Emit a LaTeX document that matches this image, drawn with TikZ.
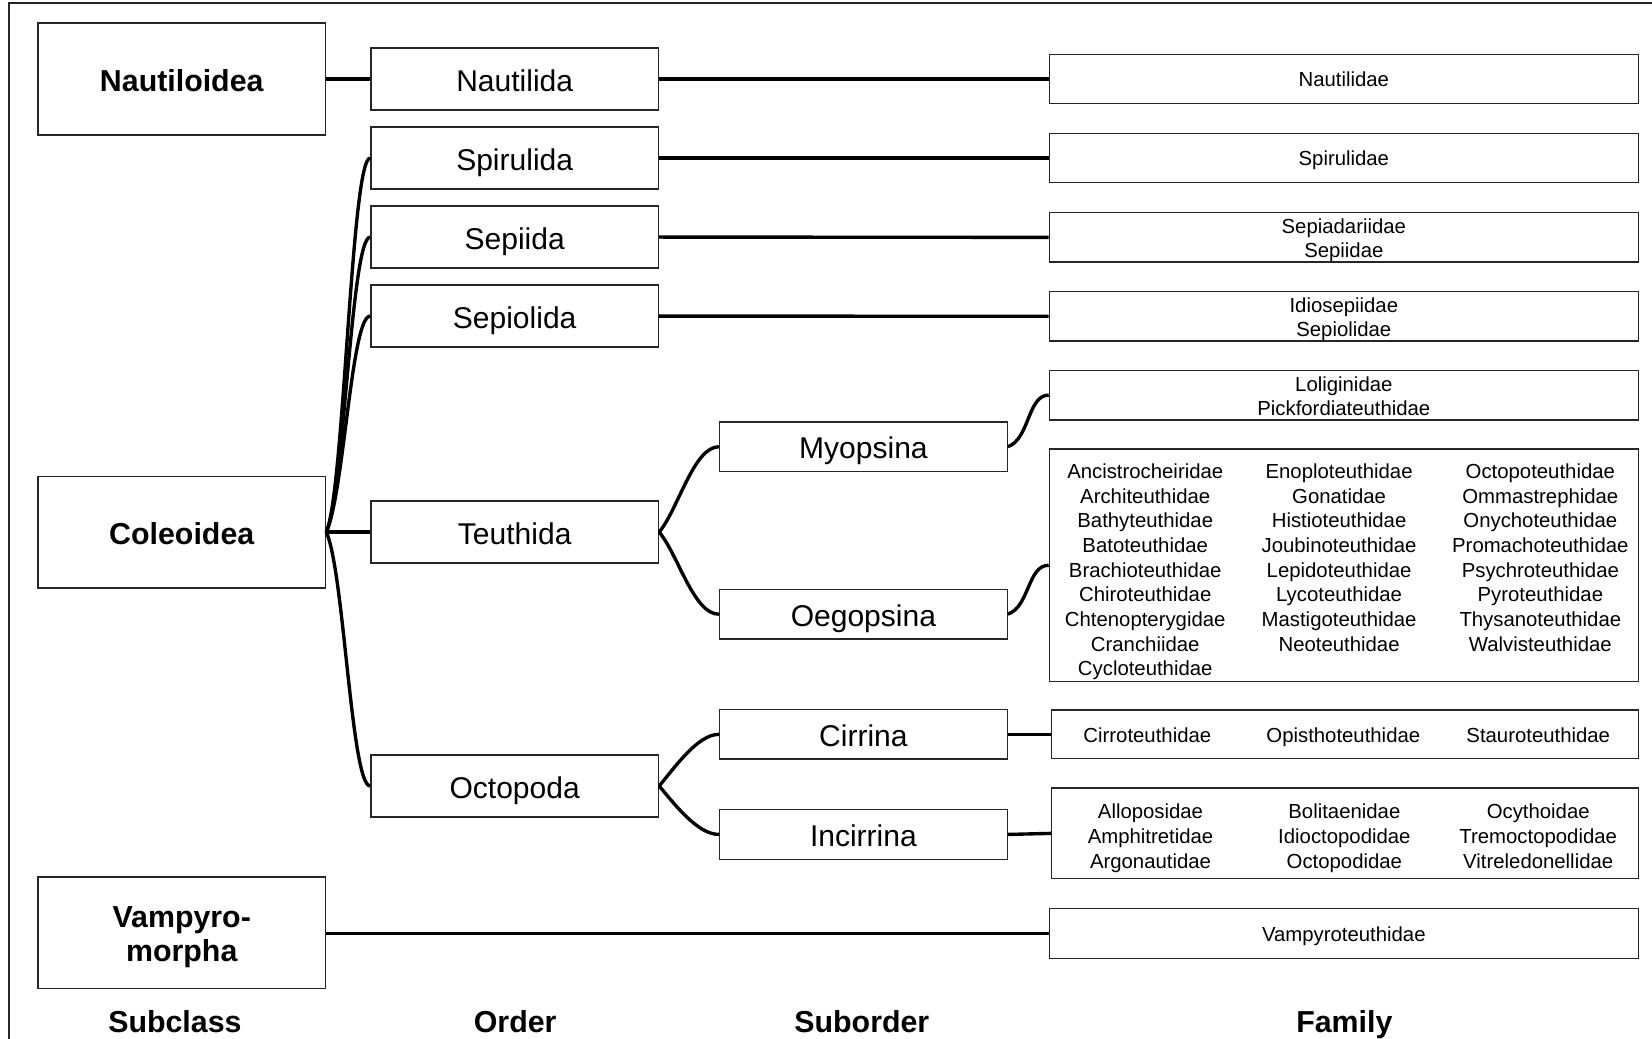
\documentclass[tikz,border=0pt]{standalone}
\usepackage{fontspec}
\setmainfont{Liberation Sans}
\begin{document}
\begin{tikzpicture}[x=1pt,y=-1pt,
  box/.style={draw=black!85,line width=1.3pt,inner sep=0pt,fill=white},
  subbox/.style={box,minimum width=273pt,minimum height=106pt,font=\fontsize{28.8}{33}\selectfont\bfseries,text height=23pt,text depth=0pt},
  ordbox/.style={box,minimum width=273pt,minimum height=59pt,font=\fontsize{28.5}{34}\selectfont,text height=23pt,text depth=0pt},
  sobox/.style={box,minimum width=273pt,minimum height=47pt,font=\fontsize{28.5}{34}\selectfont,text height=23pt,text depth=0pt},
  fambox/.style={box,minimum width=559pt,minimum height=47pt,font=\fontsize{19.3}{23}\selectfont,text height=14.7pt,text depth=0pt},
  famtxt/.style={inner sep=0pt,font=\fontsize{19.3}{23.4}\selectfont,align=center},
  famtwo/.style={famtxt,font=\fontsize{19.3}{22.6}\selectfont,anchor=north},
  subtwo/.style={inner sep=0pt,font=\fontsize{28.8}{32.3}\selectfont\bfseries,align=center,anchor=north},
  conn/.style={line width=3.2pt,line cap=butt},
  rowlabel/.style={font=\fontsize{28.8}{34}\selectfont\bfseries,inner sep=0pt,anchor=base}]
\useasboundingbox (0,0) rectangle (1568,986);
\draw[line width=1.5pt,black!85] (8.5,986) -- (8.5,3) -- (1568,3);

% subclass
\node[subbox] (nautiloidea) at (172.5,75) {Nautiloidea};
\node[subbox] (coleoidea) at (172.5,505) {Coleoidea};
\node[subbox] (vampyro) at (172.5,885.4) {};
\node[subtwo] (vampyrotxt) at (172.5,860) {Vampyro-\\morpha};

% order
\node[ordbox] (nautilida) at (488.5,75) {Nautilida};
\node[ordbox] (spirulida) at (488.5,150) {Spirulida};
\node[ordbox] (sepiida) at (488.5,225) {Sepiida};
\node[ordbox] (sepiolida) at (488.5,300) {Sepiolida};
\node[ordbox] (teuthida) at (488.5,505) {Teuthida};
\node[ordbox] (octopoda) at (488.5,746) {Octopoda};

% suborder
\node[sobox] (myopsina) at (819.5,424) {Myopsina};
\node[sobox] (oegopsina) at (819.5,583) {Oegopsina};
\node[sobox] (cirrina) at (819.5,697) {Cirrina};
\node[sobox] (incirrina) at (819.5,792) {Incirrina};

% families
\node[fambox] (nautilidae) at (1275.5,75) {Nautilidae};
\node[fambox] (spirulidae) at (1275.5,150) {Spirulidae};
\node[fambox] (sepiidae) at (1275.5,225.3) {};
\node[famtwo] (sepiidaetxt) at (1275.5,207.5) {Sepiadariidae\\Sepiidae};
\node[fambox] (sepiolidae) at (1275.5,300.2) {};
\node[famtwo] (sepiolidaetxt) at (1275.5,282.5) {Idiosepiidae\\Sepiolidae};
\node[fambox] (loliginidae) at (1275.5,375) {};
\node[famtwo] (loliginidaetxt) at (1275.5,357.5) {Loliginidae\\Pickfordiateuthidae};
\node[fambox,minimum height=221pt] (oegfam) at (1275.5,536.5) {};
\node[fambox,minimum width=557pt,minimum height=46pt] (cirfam) at (1276.5,697) {};
\node[fambox,minimum width=557pt,minimum height=86pt] (incfam) at (1276.5,791) {};
\node[fambox] (vampfam) at (1275.5,886) {Vampyroteuthidae};

% oegopsina family columns
\node[famtxt,anchor=north] (oeg1) at (1087,440) {Ancistrocheiridae\\Architeuthidae\\Bathyteuthidae\\Batoteuthidae\\Brachioteuthidae\\Chiroteuthidae\\Chtenopterygidae\\Cranchiidae\\Cycloteuthidae};
\node[famtxt,anchor=north] (oeg2) at (1271,440) {Enoploteuthidae\\Gonatidae\\Histioteuthidae\\Joubinoteuthidae\\Lepidoteuthidae\\Lycoteuthidae\\Mastigoteuthidae\\Neoteuthidae};
\node[famtxt,anchor=north] (oeg3) at (1462,440) {Octopoteuthidae\\Ommastrephidae\\Onychoteuthidae\\Promachoteuthidae\\Psychroteuthidae\\Pyroteuthidae\\Thysanoteuthidae\\Walvisteuthidae};

% cirrina family row
\node[famtxt,anchor=base] (cir1) at (1089,705) {Cirroteuthidae};
\node[famtxt,anchor=base] (cir2) at (1275,705) {Opisthoteuthidae};
\node[famtxt,anchor=base] (cir3) at (1460,705) {Stauroteuthidae};

% incirrina family columns
\node[famtxt,anchor=north] (inc1) at (1092,763) {Alloposidae\\Amphitretidae\\Argonautidae};
\node[famtxt,anchor=north] (inc2) at (1276,763) {Bolitaenidae\\Idioctopodidae\\Octopodidae};
\node[famtxt,anchor=north] (inc3) at (1460,763) {Ocythoidae\\Tremoctopodidae\\Vitreledonellidae};

% row labels
\node[rowlabel] (lsub) at (166,980) {Subclass};
\node[rowlabel] (lord) at (489,980) {Order};
\node[rowlabel] (lsubord) at (818,980) {Suborder};
\node[rowlabel] (lfam) at (1276,980) {Family};

% connectors subclass -> order
\draw[conn] (nautiloidea.east) -- (nautilida.west);
\draw[conn] (vampyro.east |- vampfam.west) -- (vampfam.west);
\draw[conn] (coleoidea.east) -- (teuthida.west);
\foreach \t in {spirulida,sepiida,sepiolida}
  \draw[conn] (coleoidea.east) to[out=65,in=180,out distance=40pt,in distance=18pt] (\t.west);
\draw[conn] (coleoidea.east) to[out=-65,in=180,out distance=40pt,in distance=18pt] (octopoda.west);

% order -> family
\draw[conn] (nautilida.east) -- (nautilidae.west);
\draw[conn] (spirulida.east) -- (spirulidae.west);
\draw[conn] (sepiida.east) -- (sepiidae.west);
\draw[conn] (sepiolida.east) -- (sepiolidae.west);

% order -> suborder
\draw[conn] (teuthida.east) to[out=50,in=180,out distance=28pt,in distance=24pt] (myopsina.west);
\draw[conn] (teuthida.east) to[out=-50,in=180,out distance=28pt,in distance=24pt] (oegopsina.west);
\draw[conn] (octopoda.east) to[out=50,in=180,out distance=24pt,in distance=20pt] (cirrina.west);
\draw[conn] (octopoda.east) to[out=-50,in=180,out distance=24pt,in distance=20pt] (incirrina.west);

% suborder -> family
\draw[conn] (myopsina.east) to[out=20,in=180,out distance=22pt,in distance=20pt] (loliginidae.west);
\draw[conn] (oegopsina.east) to[out=20,in=180,out distance=22pt,in distance=20pt] (oegfam.west);
\draw[conn] (cirrina.east) -- (cirfam.west);
\draw[conn] (incirrina.east) -- (incfam.west);
\end{tikzpicture}
\end{document}
